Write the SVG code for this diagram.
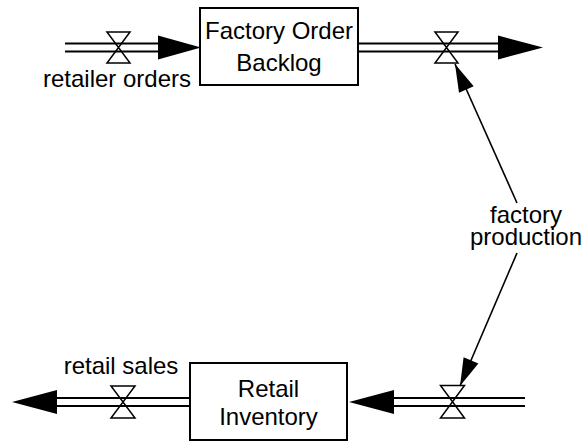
<svg xmlns="http://www.w3.org/2000/svg" width="584" height="442" viewBox="0 0 584 442">
  <style>
    text { font-family: "Liberation Sans", Arial, sans-serif; font-size: 24px; fill: #000; text-anchor: middle; }
    .stock { fill: #fff; stroke: #000; stroke-width: 2; }
    .pipe { stroke: #000; stroke-width: 2; fill: none; }
    .valve { fill: none; stroke: #000; stroke-width: 1.5; stroke-linejoin: miter; }
    .head { fill: #000; stroke: none; }
    .link { stroke: #000; stroke-width: 1.6; fill: none; }
  </style>
  <defs>
    <marker id="linkHead" markerUnits="userSpaceOnUse" markerWidth="30" markerHeight="20" viewBox="-27 -8 28 16" refX="0" refY="0" orient="auto">
      <path d="M0,0 L-26,-7.5 L-26,7.5 Z" fill="#000"/>
    </marker>
  </defs>

  <!-- stocks -->
  <g id="factory-order-backlog">
    <rect class="stock" x="200" y="8" width="158" height="77"/>
    <text x="279" y="39">Factory Order</text>
    <text x="279" y="70.5">Backlog</text>
  </g>
  <g id="retail-inventory">
    <rect class="stock" x="190" y="363" width="157" height="77"/>
    <text x="268.5" y="396.5">Retail</text>
    <text x="268.5" y="425">Inventory</text>
  </g>

  <!-- flows -->
  <g id="retailer-orders">
    <line class="pipe" x1="65" y1="43.5" x2="159" y2="43.5"/>
    <line class="pipe" x1="65" y1="51.5" x2="159" y2="51.5"/>
    <polygon class="head" points="158,35.5 201,47.5 158,59.5"/>
    <path class="valve" d="M107,32 L130,32 L107,63 L130,63 Z"/>
    <text x="117" y="87">retailer orders</text>
  </g>
  <g id="factory-production">
    <line class="pipe" x1="358" y1="43.5" x2="499" y2="43.5"/>
    <line class="pipe" x1="358" y1="51.5" x2="499" y2="51.5"/>
    <polygon class="head" points="498,35.5 543,47.5 498,59.5"/>
    <path class="valve" d="M435,32 L458,32 L435,63 L458,63 Z"/>
    <line class="pipe" x1="393" y1="398" x2="525" y2="398"/>
    <line class="pipe" x1="393" y1="406" x2="525" y2="406"/>
    <polygon class="head" points="394,390 349,402 394,414"/>
    <path class="valve" d="M440.5,385.5 L464.5,385.5 L440.5,418 L464.5,418 Z"/>
    <text x="526" y="223">factory</text>
    <text x="526" y="245">production</text>
  </g>
  <g id="retail-sales">
    <line class="pipe" x1="56" y1="398" x2="190" y2="398"/>
    <line class="pipe" x1="56" y1="406" x2="190" y2="406"/>
    <polygon class="head" points="57,390 12,402 57,414"/>
    <path class="valve" d="M111,386 L135,386 L111,418 L135,418 Z"/>
    <text x="121" y="374">retail sales</text>
  </g>

  <!-- information links -->
  <g id="connectors">
    <line class="link" x1="517" y1="203" x2="455" y2="64" marker-end="url(#linkHead)"/>
    <line class="link" x1="517" y1="253" x2="460" y2="386" marker-end="url(#linkHead)"/>
  </g>
</svg>
